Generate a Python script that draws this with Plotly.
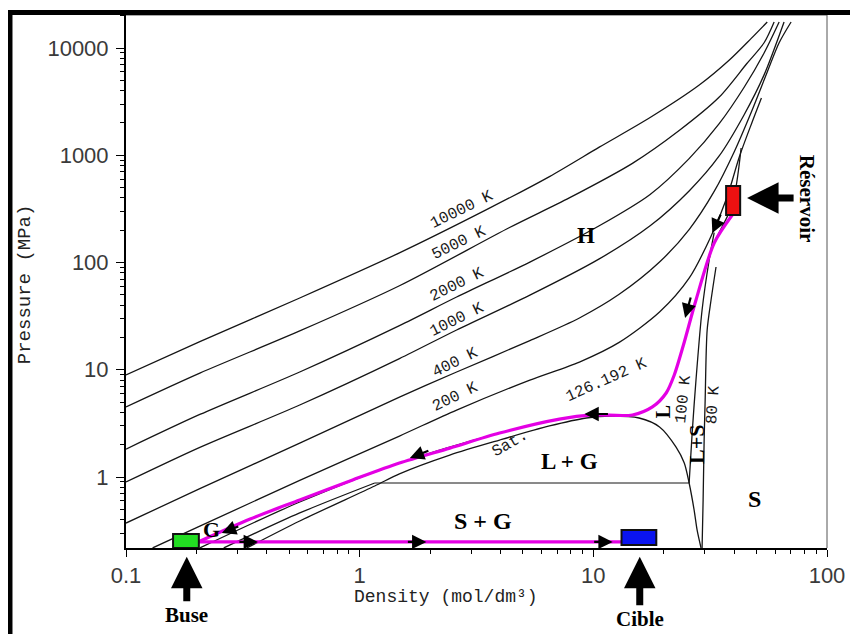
import math
import plotly.graph_objects as go

# ---------------- data (density mol/dm3, pressure MPa) -------------
iso_labels = ["10000 K", "5000 K", "2000 K", "1000 K", "400 K", "200 K"]
iso_rho = [
    [0.100, 0.207, 0.554, 1.48, 3.49, 6.49, 10.6, 17.5, 28.4, 38.1, 47.4, 55.5],
    [0.100, 0.207, 0.554, 1.48, 4.38, 7.89, 14.7, 23.3, 34.5, 45.4, 53.8, 59.4],
    [0.100, 0.207, 0.554, 1.48, 2.60, 5.35, 10.6, 17.5, 25.7, 34.5, 44.2, 53.8, 62.4],
    [0.100, 0.207, 0.554, 1.48, 2.60, 5.35, 10.6, 17.5, 25.7, 34.5, 44.2, 53.8, 65.5],
    [0.100, 0.207, 0.554, 1.48, 2.60, 5.35, 8.72, 12.9, 19.2, 25.7, 32.9, 40.1, 47.4, 55.5, 62.4, 70.2],
    [0.130, 0.207, 0.554, 1.48, 2.60, 5.35, 8.72, 12.9, 19.2, 25.7, 31.9, 37.4, 42.1, 47.4, 52.4],
]
iso_p = [
    [8.93, 18.3, 46.7, 123, 311, 633, 1190, 2250, 4520, 7690, 12300, 17500],
    [4.50, 9.3, 23.0, 60.7, 212, 400, 840, 1700, 3470, 7170, 11200, 17500],
    [1.82, 3.83, 9.53, 25.8, 47.7, 101, 220, 431, 930, 1960, 4310, 9000, 17500],
    [0.898, 1.89, 4.69, 12.7, 23.5, 49.6, 108, 220, 465, 980, 2390, 5620, 17500],
    [0.372, 0.779, 2.07, 5.56, 9.53, 18.7, 30.4, 50.5, 101, 203, 460, 1080, 2520, 5980, 11200, 17500],
    [0.218, 0.348, 0.929, 2.41, 4.21, 8.01, 11.8, 18.0, 34.5, 71.4, 176, 411, 960, 1940, 3420],
]
crit_rho = [0.207, 0.554, 1.48, 3.97, 7.16, 9.91, 14.7, 17.9, 20.5, 22.2, 24.3, 27.5, 32.9, 39.3, 42.9]
crit_p = [0.218, 0.585, 1.35, 2.57, 3.47, 3.79, 3.79, 4.50, 6.07, 8.93, 17.0, 44.7, 152, 344, 1170]

k100_gas_rho = [0.262, 0.554, 1.16]
k100_gas_p = [0.218, 0.462, 0.879]
k100_tie_rho = [1.16, 25.7]
k100_tie_p = [0.879, 0.879]
k100_liq_rho = [25.7, 26.5, 27.5, 29.2, 31.3, 32.9]
k100_liq_p = [0.879, 2.63, 8.02, 36.1, 105, 190]
k80_rho = [29.2, 29.5, 29.8, 30.1, 30.7, 31.9, 33.5]
k80_p = [0.218, 0.610, 2.21, 5.22, 23.5, 44.7, 90.8]

sat_rho = [0.329, 0.554, 1.16, 1.48, 2.43, 3.97, 6.49, 9.33, 11.9, 15.7, 19.2, 22.6, 24.5, 25.7, 27.0, 27.8, 28.9]
sat_p = [0.218, 0.389, 0.824, 1.07, 1.60, 2.21, 2.99, 3.55, 3.70, 3.55, 2.93, 1.90, 1.35, 0.879, 0.492, 0.321, 0.218]

path_rho = [39.3, 32.9, 27.5, 24.3, 22.2, 20.5, 17.9, 14.7, 9.91, 7.16, 3.97, 2.43, 1.48, 0.933, 0.554, 0.340, 0.207]
path_p = [277, 152, 44.7, 17.0, 8.93, 6.07, 4.50, 3.79, 3.79, 3.47, 2.57, 1.86, 1.35, 0.938, 0.610, 0.406, 0.252]
jet_rho = [0.205, 13.2]
jet_p = [0.248, 0.248]

# boxes: [rho_left, rho_right], [p_low, p_high]
box_names = ["Buse", "Cible", "Réservoir"]
box_rho = [[0.159, 0.205], [13.2, 18.6], [37.0, 42.5]]
box_p = [[0.218, 0.294], [0.232, 0.321], [277, 517]]
box_colors = ["#22dd22", "#0a14f0", "#ee1111"]

# pointer arrows: tip density, tip pressure, text offset (px)
ptr_text = ["Buse", "Cible", "Réservoir"]
ptr_rho = [0.182, 15.8, 45.5]
ptr_p = [0.18, 0.18, 400]
ptr_dx = [0, 0, 60]
ptr_dy = [58, 62, 0]
ptr_ang = [0, 0, 90]

# small arrow tips on the path
arr_rho = [32.3, 24.7, 9.16, 1.64, 0.257, 0.367, 1.93, 12.1]
arr_p = [188, 30.4, 3.87, 1.50, 0.301, 0.248, 0.248, 0.248]
arr_dx = [9, 6, 25, 20, 18, -20, -20, -20]
arr_dy = [-20, -22, 0, -8, -7, 0, 0, 0]

# curve labels
lab_text = ["10000 K", "5000 K", "2000 K", "1000 K", "400 K", "200 K", "126.192 K", "Sat.", "100 K", "80 K"]
lab_rho = [2.73, 2.67, 2.60, 2.60, 2.55, 2.57, 11.4, 4.38, 24.3, 32.6]
lab_p = [309, 152, 61.7, 29.1, 11.6, 5.57, 8.02, 2.03, 5.34, 4.69]
lab_ang = [-26, -26, -26, -26, -26, -26, -24, -30, -84, -86]

reg_text = ["H", "L + G", "S + G", "S", "G", "L", "L+S"]
reg_rho = [9.33, 7.89, 3.36, 48.8, 0.233, 19.9, 27.5]
reg_p = [177, 1.41, 0.389, 0.624, 0.327, 4.04, 2.03]
reg_ang = [0, 0, 0, 0, 0, -90, -90]
reg_size = [23, 23, 24, 24, 22, 20, 22]

x_major = [0.1, 1, 10, 100]
x_minor = [v * m for m in (0.1, 1, 10) for v in range(2, 10)]
y_major = [1, 10, 100, 1000, 10000]
y_minor = [v * m for m in (0.1, 1, 10, 100, 1000, 10000) for v in range(2, 10)]

# ---------------- figure -------------
fig = go.Figure()
LINE = "#151515"
L = math.log10
Y0, Y1 = -0.662, 4.308


def add_line(x, y, color=LINE, width=1.3, shape="spline"):
    fig.add_trace(go.Scatter(x=x, y=y, mode="lines", hoverinfo="skip", showlegend=False,
                             line=dict(color=color, width=width, shape=shape, smoothing=0.8)))


for r, p in zip(iso_rho, iso_p):
    add_line(r, p)
add_line(crit_rho, crit_p)
add_line(k100_gas_rho, k100_gas_p)
add_line(k100_tie_rho, k100_tie_p, width=1.0, shape="linear")
add_line(k100_liq_rho, k100_liq_p)
add_line(k80_rho, k80_p)
add_line(sat_rho, sat_p)
add_line(path_rho, path_p, color="#e400e4", width=3.2)
add_line(jet_rho, jet_p, color="#e400e4", width=3.2, shape="linear")

for (r0, r1), (p0, p1), c in zip(box_rho, box_p, box_colors):
    fig.add_shape(type="rect", xref="x", yref="y", x0=r0, x1=r1, y0=p0, y1=p1,
                  fillcolor=c, line=dict(color="#111", width=2), layer="above")

for r, p, dx, dy in zip(arr_rho, arr_p, arr_dx, arr_dy):
    fig.add_annotation(x=L(r), y=L(p), ax=dx, ay=dy, xref="x", yref="y", text="",
                       showarrow=True, arrowhead=2, arrowsize=1.3, arrowwidth=2.2,
                       arrowcolor="black")

mono = "Liberation Mono"
for t, r, p, a in zip(lab_text, lab_rho, lab_p, lab_ang):
    fig.add_annotation(x=L(r), y=L(p), xref="x", yref="y", text=t, showarrow=False, textangle=a,
                       font=dict(family=mono, size=16, color="#1a1a1a"))

serif = "Liberation Serif"
for t, r, p, a, s in zip(reg_text, reg_rho, reg_p, reg_ang, reg_size):
    fig.add_annotation(x=L(r), y=L(p), xref="x", yref="y", text="<b>%s</b>" % t,
                       showarrow=False, textangle=a,
                       font=dict(family=serif, size=s, color="black"))

# pointer arrows (tip placed through paper y so it may sit below the axis range)
for t, r, p, dx, dy, a in zip(ptr_text, ptr_rho, ptr_p, ptr_dx, ptr_dy, ptr_ang):
    fig.add_annotation(x=L(r), y=(L(p) - Y0) / (Y1 - Y0), xref="x", yref="paper",
                       text="<b>%s</b>" % t, ax=dx, ay=dy, textangle=a, showarrow=True,
                       arrowhead=2, arrowsize=0.9, arrowwidth=7, arrowcolor="black",
                       font=dict(family=serif, size=21, color="black"))

# axis titles
fig.add_annotation(x=0.4565, y=-0.092, xref="paper", yref="paper", text="Density (mol/dm³)",
                   xanchor="center", yanchor="middle", showarrow=False,
                   font=dict(family=mono, size=18, color="#222"))
fig.add_annotation(x=-0.144, y=0.495, xref="paper", yref="paper", text="Pressure (MPa)",
                   xanchor="center", yanchor="middle", showarrow=False, textangle=-90,
                   font=dict(family=mono, size=19, color="#222"))

# frame lines top/right, and the thick outer border (only its top and left edges are in view)
fig.add_shape(type="line", xref="paper", yref="paper", x0=0, x1=1, y0=1, y1=1,
              line=dict(color="#555", width=1))
fig.add_shape(type="line", xref="paper", yref="paper", x0=1, x1=1, y0=0, y1=1,
              line=dict(color="#555", width=1))
fig.add_shape(type="rect", xref="paper", yref="paper", x0=-0.1655, x1=1.08, y0=-0.2, y1=1.0047,
              line=dict(color="black", width=5))

tickfont = dict(family="Liberation Sans", size=22, color="#3a3a3a")
fig.update_xaxes(type="log", range=[-1, 2], showgrid=False, zeroline=False, showline=True,
                 automargin=False,
                 linecolor="black", linewidth=2, ticks="outside", ticklen=7, tickwidth=1.2,
                 tickcolor="black", tickmode="array", tickvals=x_major,
                 ticktext=["0.1", "1", "10", "100"], tickfont=tickfont, ticklabelstandoff=0,
                 minor=dict(tickmode="array", tickvals=x_minor, ticks="outside", ticklen=4,
                            tickcolor="black", showgrid=False))
fig.update_yaxes(type="log", range=[Y0, Y1], showgrid=False, zeroline=False, showline=True,
                 automargin=False,
                 linecolor="black", linewidth=2, ticks="outside", ticklen=8, tickwidth=1.2,
                 tickcolor="black", tickmode="array", tickvals=y_major,
                 ticktext=["1", "10", "100", "1000", "10000"], tickfont=tickfont,
                 ticklabelstandoff=3,
                 minor=dict(tickmode="array", tickvals=y_minor, ticks="outside", ticklen=4,
                            tickcolor="black", showgrid=False))

# page body has an 8px margin: size/margins compensate so the plot lands at the reference spot
fig.update_layout(width=850, height=626, margin=dict(l=118, r=31, t=7, b=86),
                  paper_bgcolor="white", plot_bgcolor="white", showlegend=False)

fig.write_html("out.html")
